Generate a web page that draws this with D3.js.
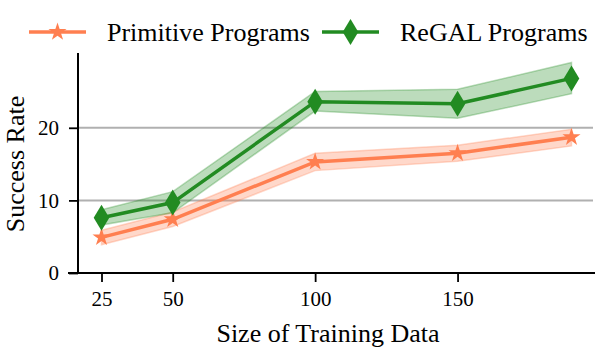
<!DOCTYPE html>
<html>
<head>
<meta charset="utf-8">
<script src="https://cdn.jsdelivr.net/npm/d3@7"></script>
<style>
  body { margin: 0; background: #fff; }
  svg text { font-family: "Liberation Serif", "Times New Roman", serif; fill: #000; }
</style>
</head>
<body>
<div id="chart"></div>
<script>
// data
const sizes = [25, 50, 100, 150, 190];
const xTicks = [25, 50, 100, 150];
const yTicks = [0, 10, 20];

const primitiveMean  = [4.9, 7.4, 15.3, 16.5, 18.7];
const primitiveLower = [3.9, 6.4, 14.1, 15.4, 17.5];
const primitiveUpper = [5.9, 8.4, 16.5, 17.6, 19.8];

const regalMean  = [7.6, 9.7, 23.6, 23.3, 26.8];
const regalLower = [6.6, 8.3, 22.3, 21.3, 24.7];
const regalUpper = [8.7, 11.2, 25.0, 25.3, 29.0];

const width = 611, height = 357;
const orange = "#ff7f50", green = "#228b22";

const svg = d3.select("#chart").append("svg")
  .attr("width", width)
  .attr("height", height);

const x = d3.scaleLinear().domain([16.75, 198.25]).range([78, 595]);
const y = d3.scaleLinear().domain([0, 30.3]).range([273, 53]);

// grid
svg.selectAll(".grid")
  .data(yTicks.filter(d => d > 0))
  .join("line")
  .attr("class", "grid")
  .attr("x1", x.range()[0]).attr("x2", 593)
  .attr("y1", d => y(d)).attr("y2", d => y(d))
  .attr("stroke", "#b0b0b0")
  .attr("stroke-width", 2);

// marker shapes
function starPath(r) {
  const inner = r * 0.382;
  let pts = [];
  for (let i = 0; i < 10; i++) {
    const rr = i % 2 === 0 ? r : inner;
    const a = -Math.PI / 2 + i * Math.PI / 5;
    pts.push([rr * Math.cos(a), rr * Math.sin(a)]);
  }
  return "M" + pts.map(p => p.join(",")).join("L") + "Z";
}
function diamondPath(w, h) {
  return `M0,${-h}L${w},0L0,${h}L${-w},0Z`;
}

const series = [
  { name: "Primitive Programs", color: orange, mean: primitiveMean, lo: primitiveLower, hi: primitiveUpper, marker: starPath(9.5) },
  { name: "ReGAL Programs", color: green, mean: regalMean, lo: regalLower, hi: regalUpper, marker: diamondPath(7.8, 13) }
];

const area = d3.area()
  .x((d, i) => x(sizes[i]))
  .y0(d => y(d[0]))
  .y1(d => y(d[1]));

const line = d3.line()
  .x((d, i) => x(sizes[i]))
  .y(d => y(d));

series.forEach(s => {
  const band = s.lo.map((v, i) => [v, s.hi[i]]);
  svg.append("path")
    .datum(band)
    .attr("d", area)
    .attr("fill", s.color)
    .attr("fill-opacity", 0.3)
    .attr("stroke", s.color)
    .attr("stroke-opacity", 0.3)
    .attr("stroke-width", 1.5);
});

series.forEach(s => {
  svg.append("path")
    .datum(s.mean)
    .attr("d", line)
    .attr("fill", "none")
    .attr("stroke", s.color)
    .attr("stroke-width", 3.5);
  svg.selectAll(null)
    .data(s.mean)
    .join("path")
    .attr("d", s.marker)
    .attr("transform", (d, i) => `translate(${x(sizes[i])},${y(d)})`)
    .attr("fill", s.color);
});

// axes
const xAxis = svg.append("g")
  .attr("transform", `translate(0,${y(0)})`)
  .call(d3.axisBottom(x).tickValues(xTicks).tickSize(9).tickPadding(9.5).tickFormat(d3.format("d")));
xAxis.select(".domain").attr("d", `M68,0H595`).attr("stroke-width", 2);

const yAxis = svg.append("g")
  .attr("transform", `translate(${x.range()[0]},0)`)
  .call(d3.axisLeft(y).tickValues(yTicks).tickSize(9).tickPadding(10));
yAxis.select(".domain").attr("d", `M0,${y.range()[1]}V${y(0)}`).attr("stroke-width", 2);

svg.selectAll(".tick line").attr("stroke-width", 1.8);
svg.selectAll(".tick text").style("font-size", "21px").attr("fill", "#000");

svg.append("text")
  .attr("x", 328).attr("y", 342)
  .attr("text-anchor", "middle")
  .style("font-size", "26px")
  .text("Size of Training Data");

svg.append("text")
  .attr("transform", "translate(24,164) rotate(-90)")
  .attr("text-anchor", "middle")
  .style("font-size", "26px")
  .text("Success Rate");

// legend
const legendX = [29, 322];
series.forEach((s, i) => {
  const g = svg.append("g").attr("transform", `translate(${legendX[i]},32)`);
  g.append("line").attr("x1", 0).attr("x2", 57).attr("y1", 0).attr("y2", 0)
    .attr("stroke", s.color).attr("stroke-width", 3.5);
  g.append("path").attr("d", s.marker).attr("transform", "translate(28.5,0)").attr("fill", s.color);
  g.append("text").attr("x", 78).attr("y", 9).style("font-size", "26px").text(s.name);
});
</script>
</body>
</html>
